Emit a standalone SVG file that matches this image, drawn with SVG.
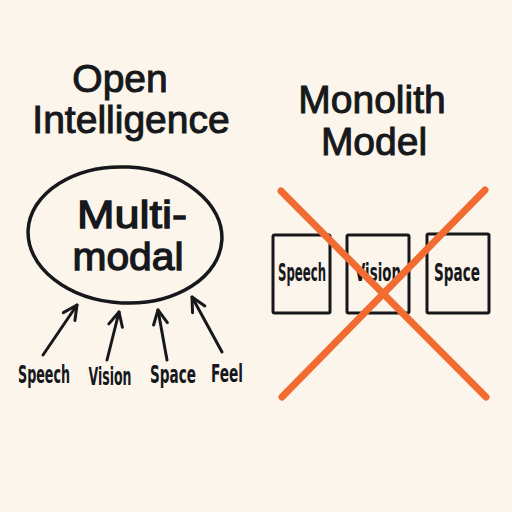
<svg xmlns="http://www.w3.org/2000/svg" width="512" height="512" viewBox="0 0 512 512">
<defs>
<marker id="ah" viewBox="0 0 20 20" refX="18" refY="10" markerWidth="20" markerHeight="20" markerUnits="userSpaceOnUse" orient="auto">
<polyline points="4,3 18,10 4,17" fill="none" stroke="#16181b" stroke-width="3" stroke-linecap="round" stroke-linejoin="round"/>
</marker>
<style>
.title{font-family:"Liberation Sans",Arial,sans-serif;font-size:39px;fill:#16181b;text-anchor:middle;stroke:#16181b;stroke-width:1}
.hand{font-family:"DejaVu Sans Condensed","DejaVu Sans",sans-serif;font-size:15px;fill:#16181b;text-anchor:middle;font-weight:bold}
.box{fill:none;stroke:#16181b;stroke-width:3}
.arr{fill:none;stroke:#16181b;stroke-width:3;stroke-linecap:round}
.cross{stroke:#f26b30;stroke-width:7;stroke-linecap:round}
</style>
</defs>
<rect width="512" height="512" fill="#fcf5eb"/>
<g id="title-open">
<text class="title" x="120" y="92">Open</text>
<text class="title" x="131" y="133">Intelligence</text>
</g>
<g id="title-monolith">
<text class="title" x="372" y="113">Monolith</text>
<text class="title" x="374" y="155">Model</text>
</g>
<g id="node-multimodal">
<ellipse cx="125" cy="235" rx="97" ry="68" fill="none" stroke="#16181b" stroke-width="3.5" transform="rotate(3 125 235)"/>
<text class="title" x="132" y="228" textLength="110" lengthAdjust="spacingAndGlyphs" style="stroke-width:1.3">Multi-</text>
<text class="title" x="128" y="270" textLength="111" lengthAdjust="spacingAndGlyphs" style="stroke-width:1.3">modal</text>
</g>
<g id="label-speech"><text class="hand" transform="translate(44,383) scale(1,1.6)" textLength="52" lengthAdjust="spacingAndGlyphs">Speech</text></g>
<g id="label-vision"><text class="hand" transform="translate(110,385) scale(1,1.6)" textLength="43" lengthAdjust="spacingAndGlyphs">Vision</text></g>
<g id="label-space"><text class="hand" transform="translate(173,383) scale(1,1.6)" textLength="46" lengthAdjust="spacingAndGlyphs">Space</text></g>
<g id="label-feel"><text class="hand" transform="translate(227,382) scale(1,1.6)" textLength="32" lengthAdjust="spacingAndGlyphs">Feel</text></g>
<g id="connectors">
<line class="arr" x1="43" y1="355" x2="77" y2="305" marker-end="url(#ah)"/>
<line class="arr" x1="107" y1="360" x2="119" y2="312" marker-end="url(#ah)"/>
<line class="arr" x1="167" y1="360" x2="158" y2="310" marker-end="url(#ah)"/>
<line class="arr" x1="222" y1="352" x2="192" y2="297" marker-end="url(#ah)"/>
</g>
<g id="box-speech">
<rect class="box" x="273" y="235" width="57" height="78" rx="1.5"/>
<text class="hand" transform="translate(302,281) scale(1,1.6)" textLength="48" lengthAdjust="spacingAndGlyphs">Speech</text>
</g>
<g id="box-vision">
<rect class="box" x="347" y="235" width="62" height="78" rx="1.5"/>
<text class="hand" transform="translate(378,281) scale(1,1.6)" textLength="46" lengthAdjust="spacingAndGlyphs">Vision</text>
</g>
<g id="box-space">
<rect class="box" x="427" y="234" width="62" height="79" rx="1.5"/>
<text class="hand" transform="translate(457,281) scale(1,1.6)" textLength="46" lengthAdjust="spacingAndGlyphs">Space</text>
</g>
<g id="cross">
<line class="cross" x1="281" y1="191" x2="486" y2="397"/>
<line class="cross" x1="485" y1="190" x2="282" y2="397"/>
</g>
</svg>
